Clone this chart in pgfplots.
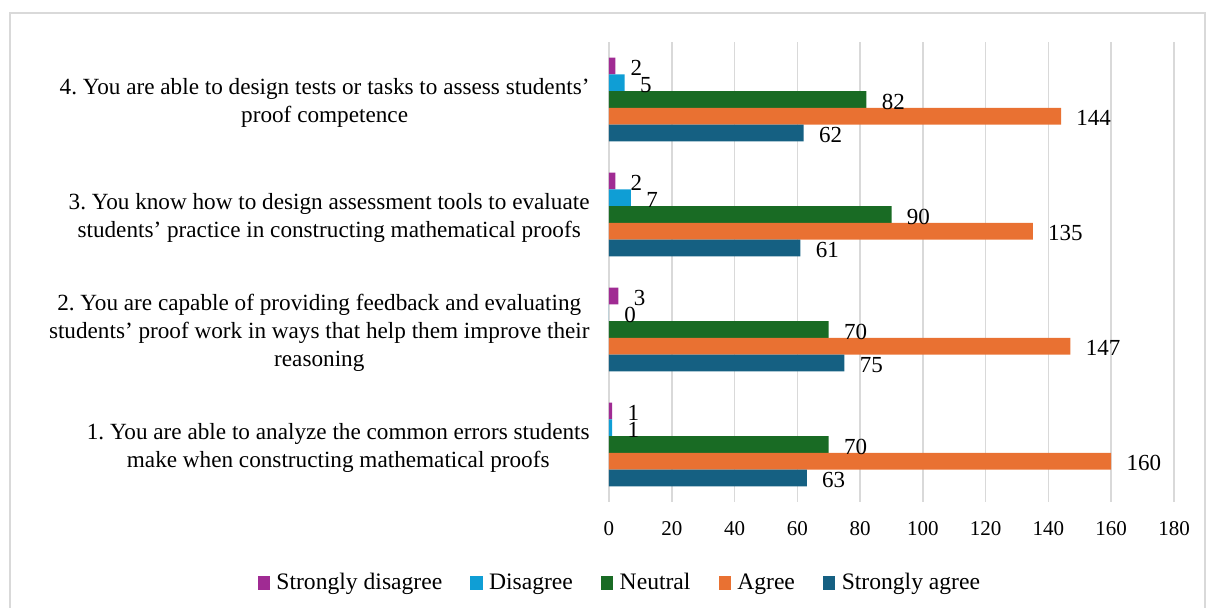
\documentclass[border=0pt]{standalone}
\usepackage{pgfplots}
\pgfplotsset{compat=1.18}
\usepackage{fontspec}
\setmainfont{Liberation Serif}
\frenchspacing
\definecolor{cSD}{HTML}{A02B93}
\definecolor{cD}{HTML}{0F9ED5}
\definecolor{cN}{HTML}{196B24}
\definecolor{cA}{HTML}{E97132}
\definecolor{cSA}{HTML}{156082}
\definecolor{gridc}{HTML}{D9D9D9}
\newcommand{\cf}{\fontsize{10.5}{13.5}\selectfont}
\newcommand{\df}{\fontsize{11.5}{13.5}\selectfont}
\newcommand{\lf}{\fontsize{11.6}{14}\selectfont}
\newcommand{\gf}{\fontsize{11.8}{14}\selectfont}
\begin{document}
\begin{tikzpicture}[x=1pt,y=1pt]
\useasboundingbox (-304.5,-53) rectangle (299.5,251);
\draw[color=gridc, line width=1pt] (-299.5,-70) rectangle (298,244.5);
\begin{axis}[
  at={(0,0)}, anchor=south west, scale only axis,
  width=282.5pt, height=230pt,
  xmin=0, xmax=180, ymin=0.5, ymax=4.5,
  xtick={0,20,...,180}, ytick={1,2,3,4},
  yticklabels={
    {1. You are able to analyze the common errors students\\make when constructing mathematical proofs},
    {2. You are capable of providing feedback and evaluating\\students’ proof work in ways that help them improve their\\reasoning},
    {3. You know how to design assessment tools to evaluate\\students’ practice in constructing mathematical proofs},
    {4. You are able to design tests or tasks to assess students’\\proof competence}},
  axis line style={draw=none},
  major tick length=0pt,
  xmajorgrids, grid style={color=gridc, line width=0.8pt},
  xbar, bar width=0.1457,
  xticklabel style={font=\cf, yshift=-6pt},
  /pgf/number format/assume math mode=true,
  yticklabel style={font=\lf, align=center, anchor=east, inner sep=0pt, xshift=-9.5pt, yshift=-1.5pt},
  nodes near coords,
  nodes near coords style={anchor=west, inner sep=0pt, xshift=7.5pt, yshift=-1pt, font=\df, text=black},
  legend columns=5,
  legend style={draw=none, font=\gf, at={(0.021,-0.1763)}, anchor=center,
    /tikz/every even column/.append style={column sep=12pt},
    /tikz/every odd column/.append style={column sep=1.2pt}},
  legend image code/.code={\fill[#1] (0pt,-3.4pt) rectangle (6.2pt,3.4pt);},
]
\addplot[fill=cSD, draw=none, bar shift=0.2914] coordinates {(1,1) (3,2) (2,3) (2,4)};
\addplot[fill=cD, draw=none, bar shift=0.1457] coordinates {(1,1) (0,2) (7,3) (5,4)};
\addplot[fill=cN, draw=none, bar shift=0] coordinates {(70,1) (70,2) (90,3) (82,4)};
\addplot[fill=cA, draw=none, bar shift=-0.1457] coordinates {(160,1) (147,2) (135,3) (144,4)};
\addplot[fill=cSA, draw=none, bar shift=-0.2914] coordinates {(63,1) (75,2) (61,3) (62,4)};
\legend{Strongly disagree, Disagree, Neutral, Agree, Strongly agree}
\end{axis}
\end{tikzpicture}
\end{document}
